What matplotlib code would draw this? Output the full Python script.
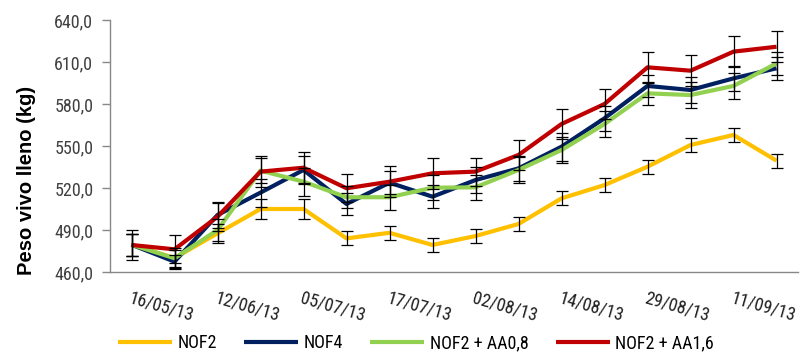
import matplotlib
matplotlib.use("Agg")
import matplotlib.pyplot as plt
import matplotlib.transforms as mtrans
from matplotlib import font_manager as fm
import numpy as np

# pick a narrow font if one is installed
narrow = None
for fam, st in [("Liberation Sans Narrow", "normal"), ("Arial Narrow", "normal"),
                ("Roboto Condensed", "normal"), ("Noto Sans", "condensed"),
                ("Noto Sans", "semi-condensed"), ("DejaVu Sans", "condensed"),
                ("Open Sans", "condensed")]:
    try:
        p = fm.findfont(fm.FontProperties(family=fam, stretch=st), fallback_to_default=False)
    except Exception:
        continue
    low = p.lower()
    if "narrow" in low or "condensed" in low:
        narrow = fm.FontProperties(fname=p)
        break

plt.rcParams['font.family'] = ['Liberation Sans', 'DejaVu Sans']

dates = ["16/05/13", "", "12/06/13", "", "05/07/13", "", "17/07/13", "",
         "02/08/13", "", "14/08/13", "", "29/08/13", "", "11/09/13", ""]

nof2 = [479.5, 470.0, 487.6, 505.0, 505.0, 484.0, 488.0, 479.3,
        485.7, 494.3, 512.6, 522.1, 535.2, 550.7, 557.9, 539.5]
nof4 = [479.5, 467.4, 500.7, 516.7, 532.9, 508.6, 523.8, 513.8,
        525.7, 534.0, 549.5, 569.8, 592.9, 590.0, 598.3, 605.5]
nof2_aa08 = [479.5, 469.8, 490.0, 532.4, 524.5, 513.4, 513.4, 520.2,
             520.5, 532.9, 547.1, 565.7, 587.6, 586.4, 592.9, 609.0]
nof2_aa16 = [479.3, 476.2, 499.5, 531.7, 534.5, 519.8, 524.5, 530.5,
             531.7, 543.6, 565.7, 580.0, 606.2, 603.8, 617.4, 620.9]

err_nof2 = [8, 7, 7, 7, 7, 5, 5, 5, 5, 5, 5, 5, 5, 5, 5, 5]
err_nof4 = [8, 5, 9, 10, 10, 8, 8, 8, 9, 9, 10, 9, 8, 9, 9, 8]
err_nof2_aa08 = [8, 6, 8, 9, 10, 8, 9, 9, 9, 9, 9, 9, 8, 9, 9, 8]
err_nof2_aa16 = [11, 10, 10, 11, 11, 10, 11, 11, 10, 11, 11, 11, 11, 11, 11, 11]

series = [
    ("NOF2", nof2, err_nof2, "#FFC000"),
    ("NOF4", nof4, err_nof4, "#002060"),
    ("NOF2 + AA0,8", nof2_aa08, err_nof2_aa08, "#92D050"),
    ("NOF2 + AA1,6", nof2_aa16, err_nof2_aa16, "#C00000"),
]

if narrow is not None:
    fs = 13
    def fp(size):
        f = narrow.copy(); f.set_size(size); return f
else:
    fs = 12
    def fp(size):
        return fm.FontProperties(family=['Liberation Sans', 'DejaVu Sans'], size=size)

fig = plt.figure(figsize=(8.01, 3.55), dpi=100)
ax = fig.add_axes([110/801, 1-272/355, (798-110)/801, (272-20)/355])

x = np.arange(len(dates))
for name, vals, err, col in series:
    ax.plot(x, vals, color=col, lw=3.0, label=name, zorder=3, solid_capstyle='butt')
    ax.errorbar(x, vals, yerr=err, fmt='none', ecolor='black', elinewidth=0.9,
                capsize=4.5, capthick=0.9, zorder=4)

ax.set_xlim(-0.5, len(dates) - 0.5)
ax.set_ylim(460, 640)
yt = np.arange(460, 641, 30)
ax.set_yticks(yt)
ax.set_yticklabels([f"{v:.1f}".replace('.', ',') for v in yt], fontproperties=fp(fs), color='#404040')
ax.tick_params(axis='y', length=6, width=1, color='#888888', pad=6)
ax.set_xticks(x)
ax.set_xticklabels([])
ax.tick_params(axis='x', length=0)
off = mtrans.ScaledTranslation(0, -17/100, fig.dpi_scale_trans)
for i, lab in enumerate(dates):
    if lab:
        ax.text(i, 460, lab, transform=ax.transData + off, rotation=-16, rotation_mode='anchor',
                ha='left', va='top', fontproperties=fp(fs), color='#202020')

for s in ['top', 'right']:
    ax.spines[s].set_visible(False)
for s in ['left', 'bottom']:
    ax.spines[s].set_color('#888888')
    ax.spines[s].set_linewidth(1.0)

fig.text(26/801, 1-180/355, "Peso vivo lleno (kg)", rotation=90, ha='center', va='center',
         fontsize=14.5, fontweight='bold', color='black')

handles, labels = ax.get_legend_handles_labels()
fig.legend(handles, labels, loc='center', bbox_to_anchor=(416/801, 1-343/355), ncol=4,
           frameon=False, prop=fp(fs), handlelength=3.0, handletextpad=0.3,
           columnspacing=1.5, borderpad=0)

fig.savefig("out.png", dpi=100)
